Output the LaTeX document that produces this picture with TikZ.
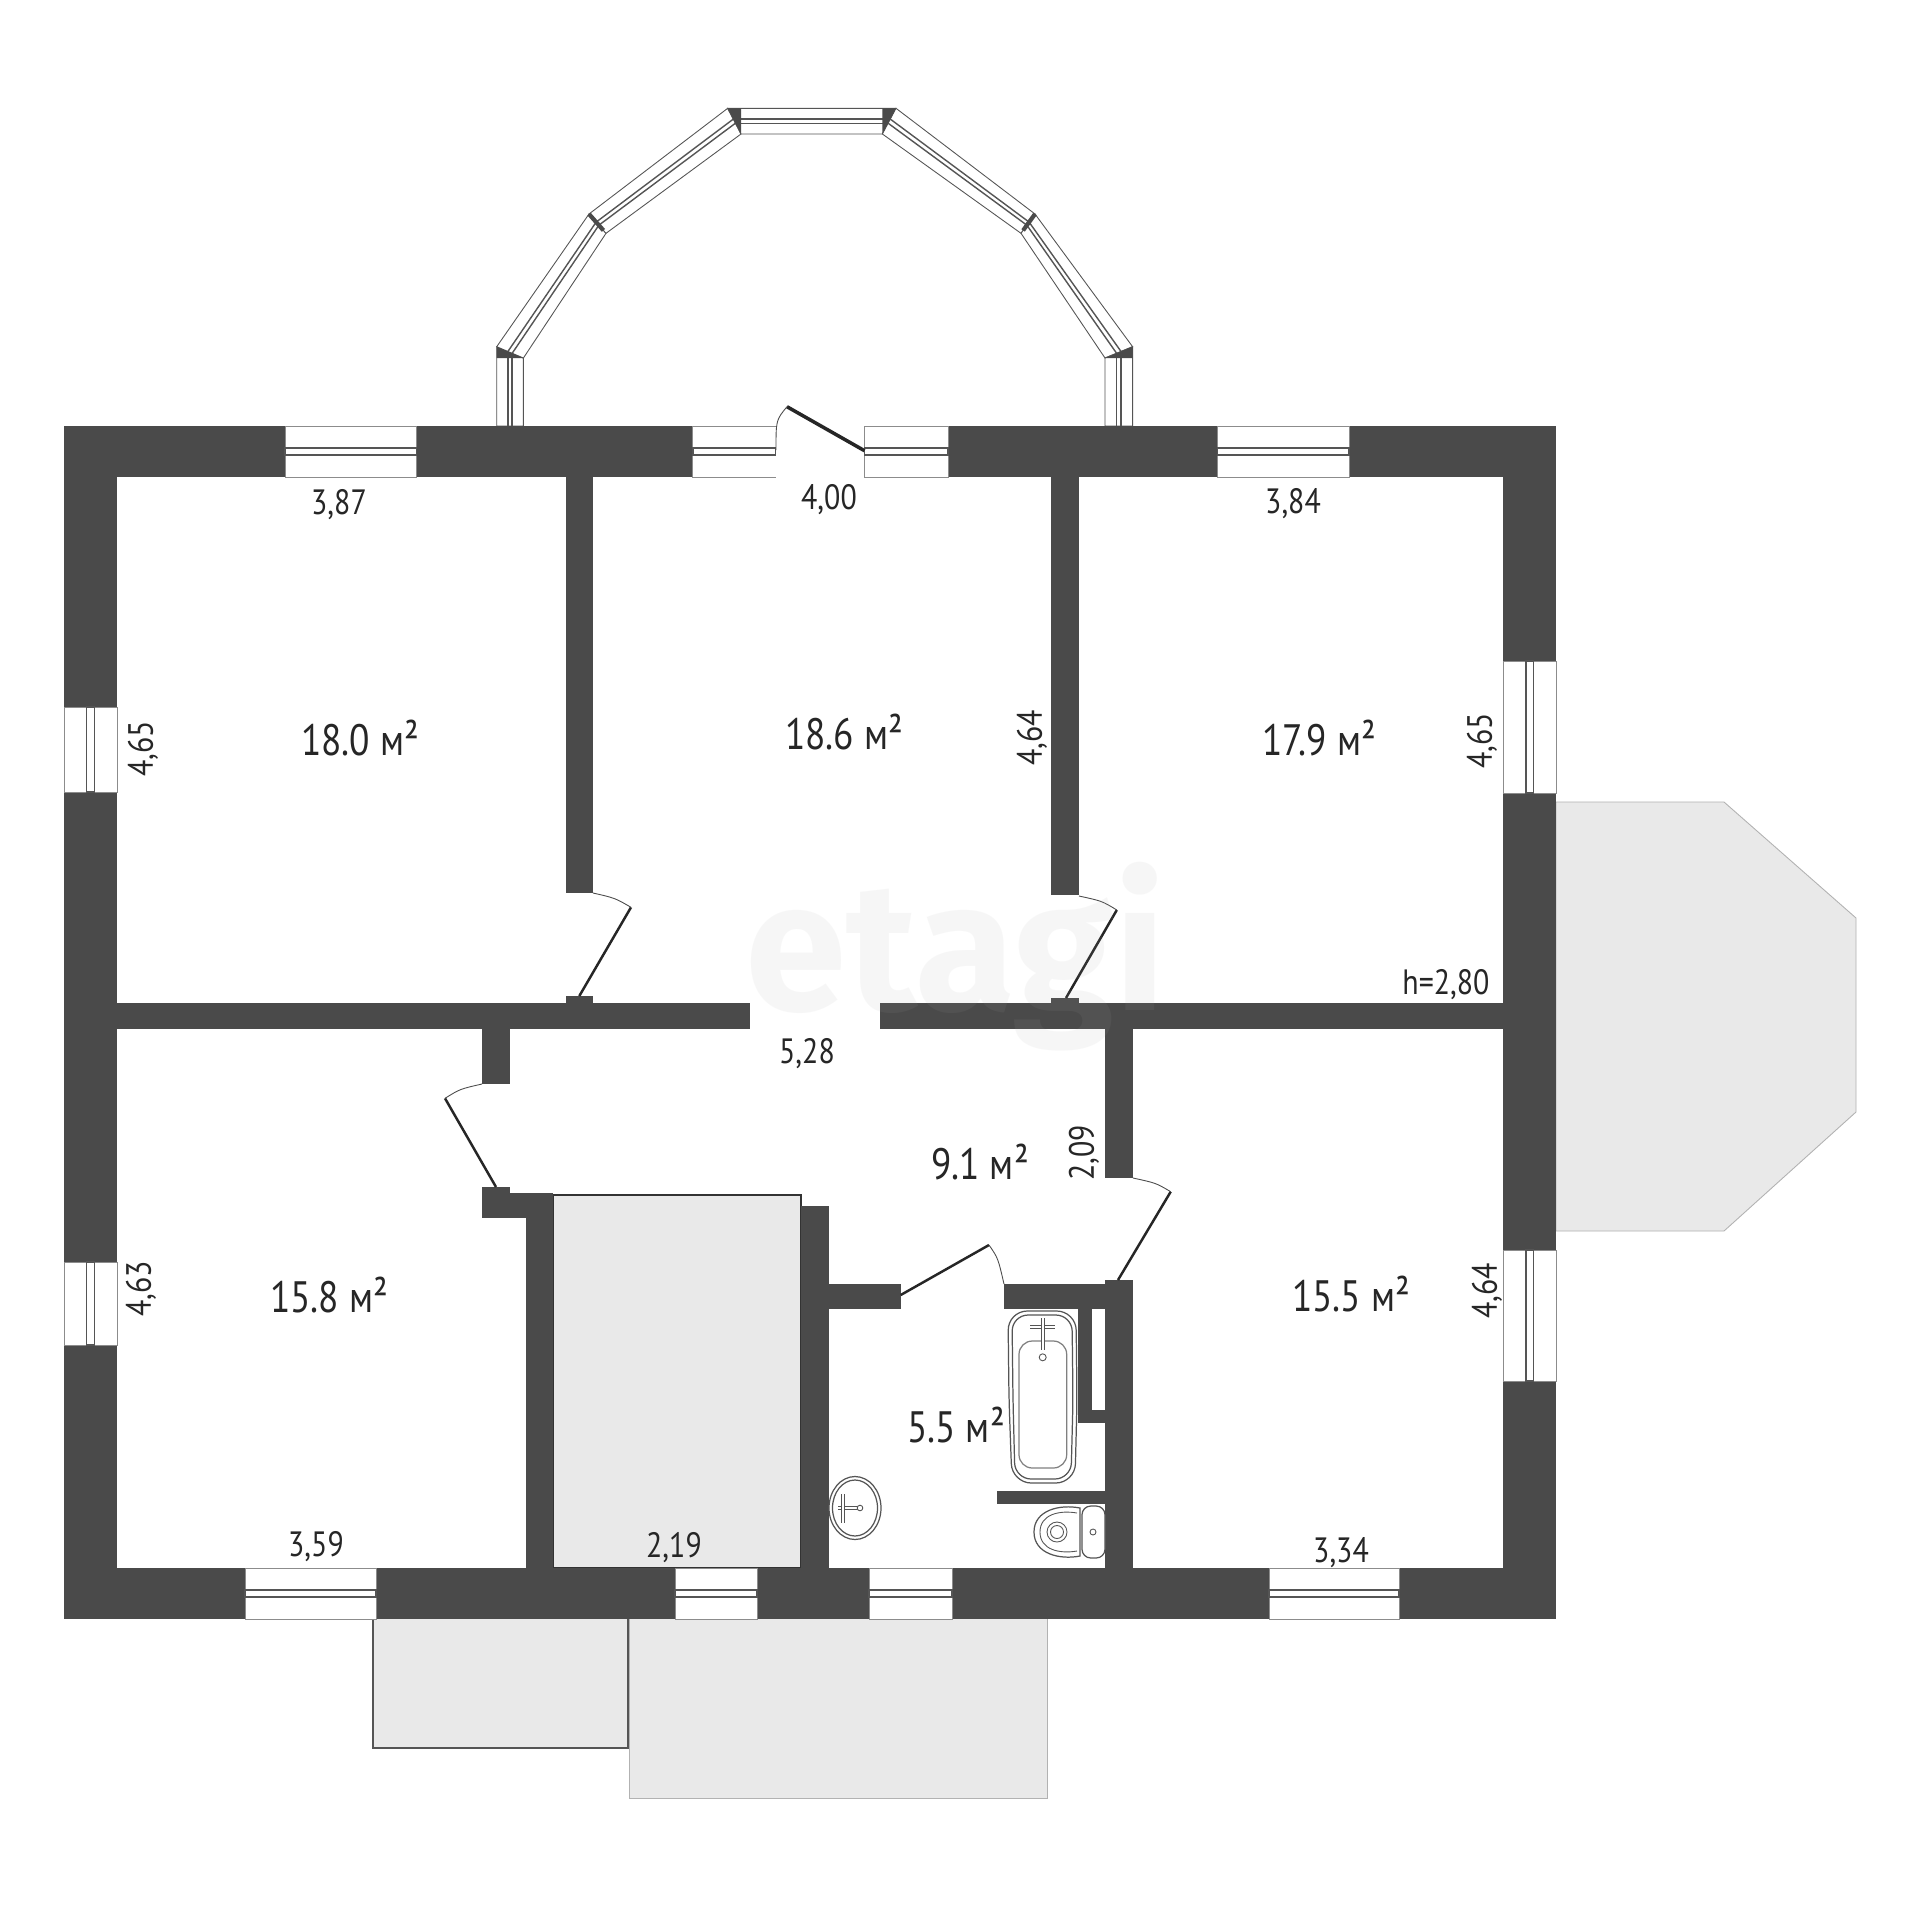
\documentclass[tikz,border=0pt]{standalone}
\usepackage{fontspec}
\usetikzlibrary{calc}
\newfontfamily\lblfont{PT Sans}[FakeStretch=0.85]
\newfontfamily\wmfont{Fira Sans}[Scale=1]
\definecolor{wallc}{HTML}{4A4A4A}
\definecolor{padc}{HTML}{E9E9E9}
\definecolor{linec}{HTML}{555555}
\tikzset{
  wall/.style={fill=wallc,draw=none},
  pad/.style={fill=padc,draw=linec,line width=0.35pt},
  padlight/.style={fill=padc,draw=gray!60,line width=0.25pt},
  winfr/.style={fill=white,draw=gray!90,line width=0.25pt},
  winmid/.style={draw=linec,line width=0.4pt},
  leaf/.style={draw=black!85,line width=0.7pt},
  swing/.style={draw=black!70,line width=0.25pt},
  fixt/.style={draw=linec,line width=0.35pt,fill=white},
  tap/.style={draw=linec,double=white,line width=0.25pt,double distance=0.6pt},
  area/.style={font=\lblfont\fontsize{12.5}{14}\selectfont,text=black!85,inner sep=0pt},
  dim/.style={font=\lblfont\fontsize{10}{12}\selectfont,text=black!85,inner sep=0pt},
}
% horizontal window: x1 x2 y1 y2
\newcommand{\hwindow}[4]{
  \draw[winfr] (#1,#3) rectangle (#2,#4);
  \draw[winmid] (#1,{#3+0.43*(#4-#3)}) rectangle (#2,{#3+0.57*(#4-#3)});
}
% vertical window: x1 x2 y1 y2
\newcommand{\vwindow}[4]{
  \draw[winfr] (#1,#3) rectangle (#2,#4);
  \draw[winmid] ({#1+0.43*(#2-#1)},#3) rectangle ({#1+0.57*(#2-#1)},#4);
}
\begin{document}
\begin{tikzpicture}[x=0.01cm,y=-0.01cm]
\useasboundingbox (0,0) rectangle (1920,1920);
\fill[white] (0,0) rectangle (1920,1920);

% outdoor pads
\draw[padlight] (1556,802) -- (1724,802) -- (1856,918) -- (1856,1112) -- (1724,1231) -- (1556,1231) -- cycle;
\draw[padlight] (629,1618) rectangle (1047,1798);
\draw[pad] (373,1618) rectangle (628,1748);

% bay window
\coordinate (O0) at (496.7,426); \coordinate (I0) at (523.4,426);
\coordinate (O1) at (496.7,346.7); \coordinate (I1) at (523.4,358);
\coordinate (O2) at (589,214); \coordinate (I2) at (606,233.3);
\coordinate (O3) at (727.7,108.3); \coordinate (I3) at (741,134);
\coordinate (O4) at (896,108.3); \coordinate (I4) at (882.4,134);
\coordinate (O5) at (1035,214); \coordinate (I5) at (1021,233.3);
\coordinate (O6) at (1132.6,346.7); \coordinate (I6) at (1105,358);
\coordinate (O7) at (1132.6,426); \coordinate (I7) at (1105,426);
\foreach \i/\j in {0/1,1/2,2/3,3/4,4/5,5/6,6/7}{
  \draw[winfr,draw=linec] (O\i) -- (O\j) -- (I\j) -- (I\i) -- cycle;
  \draw[winmid] ($(O\i)!0.42!(I\i)$) -- ($(O\j)!0.42!(I\j)$);
  \draw[winmid] ($(O\i)!0.58!(I\i)$) -- ($(O\j)!0.58!(I\j)$);
}
\fill[wallc] (O1) -- (I1) -- (496.7,358) -- cycle;
\fill[wallc] (O6) -- (I6) -- (1132.6,358) -- cycle;
\fill[wallc] (O3) -- (741,108.3) -- (I3) -- cycle;
\fill[wallc] (O4) -- (882.4,108.3) -- (I4) -- cycle;
\draw[wallc,line width=1.2pt] (O2) -- ($(O2)!0.85!(I2)$);
\draw[wallc,line width=1.2pt] (O5) -- ($(O5)!0.85!(I5)$);

% gray closet
\draw[fill=padc,draw=black!80,line width=0.4pt] (553,1195) rectangle (801,1568);

% outer walls
\fill[wall] (63.5,426) rectangle (1556,477);
\fill[wall] (63.5,1568) rectangle (1556,1619);
\fill[wall] (63.5,426) rectangle (117,1619);
\fill[wall] (1503,426) rectangle (1556,1619);
% middle wall
\fill[wall] (117,1003) rectangle (750,1029);
\fill[wall] (880,1003) rectangle (1503,1029);
% upper partitions
\fill[wall] (566,477) rectangle (593,893);
\fill[wall] (566,996) rectangle (593,1003);
\fill[wall] (1051,477) rectangle (1079,895);
\fill[wall] (1051,998) rectangle (1079,1003);
% lower left partitions
\fill[wall] (482,1029) rectangle (510,1084);
\fill[wall] (482,1187) rectangle (510,1218);
\fill[wall] (510,1193) rectangle (553,1218);
\fill[wall] (526,1193) rectangle (553,1568);
\fill[wall] (801,1206) rectangle (829,1568);
% bathroom and corridor
\fill[wall] (829,1284) rectangle (901,1309);
\fill[wall] (1004,1284) rectangle (1105,1309);
\fill[wall] (1105,1280) rectangle (1133,1568);
\fill[wall] (1105,1029) rectangle (1133,1178);
\fill[wall] (1078,1309) rectangle (1092,1423);
\fill[wall] (1092,1410) rectangle (1105,1423);
\fill[wall] (997,1491) rectangle (1105,1504);

% windows
\hwindow{285}{416.5}{426}{477}
\hwindow{692.8}{776}{426}{477}
\hwindow{864.5}{948}{426}{477}
\hwindow{1217.6}{1349}{426}{477}
\hwindow{245}{376}{1568}{1619}
\hwindow{675}{757}{1568}{1619}
\hwindow{869}{952}{1568}{1619}
\hwindow{1269}{1399}{1568}{1619}
\vwindow{64}{117}{707}{792}
\vwindow{64}{117}{1262}{1345}
\vwindow{1503}{1556}{661}{793}
\vwindow{1503}{1556}{1250}{1381}
% entrance opening
\fill[white] (776.3,426) rectangle (864.2,478);

% doors
\draw[leaf,line width=1pt] (864.5,450.7) -- (787,406.7);
\draw[swing] (787,406.7) .. controls (776,420) .. (776,450);
\draw[leaf] (579.3,996) -- (631,907.3);
\draw[swing] (631,907.3) .. controls (615,898) .. (593,893);
\draw[leaf] (1066,998) -- (1116.8,910);
\draw[swing] (1116.8,910) .. controls (1102,901) .. (1079,896);
\draw[leaf] (496,1187) -- (445,1098.3);
\draw[swing] (445,1098.3) .. controls (460,1089) .. (482,1084);
\draw[leaf] (1118,1280) -- (1170.7,1191.7);
\draw[swing] (1170.7,1191.7) .. controls (1156,1183) .. (1133,1178);
\draw[leaf] (900.7,1295) -- (989,1245);
\draw[swing] (989,1245) .. controls (998,1258) .. (1004,1284);

% bathtub
\draw[fixt,rounded corners=5.5pt] (1008,1311) -- (1076,1311) -- (1077,1400) -- (1075,1483) -- (1012,1483) -- (1009,1400) -- cycle;
\draw[fixt,rounded corners=4.6pt] (1012,1315) -- (1072,1315) -- (1073,1400) -- (1071,1479) -- (1015,1479) -- (1013,1400) -- cycle;
\draw[fixt,draw=gray,rounded corners=3.8pt] (1019,1341) rectangle (1066.7,1468);
\draw[tap] (1030,1327) -- (1055,1327);
\draw[tap] (1042.7,1318) -- (1042.7,1350);
\draw[fixt,line width=0.25pt] (1042.7,1357.3) circle [radius=3.5];

% sink
\draw[fixt] (855,1508) ellipse [x radius=26,y radius=31.5];
\draw[fixt] (855,1508) ellipse [x radius=22.5,y radius=28];
\draw[tap] (838,1508) -- (858,1508);
\draw[tap] (843,1494) -- (843,1523);
\draw[fixt,line width=0.25pt] (860,1508) circle [radius=2.8];

% toilet
\draw[fixt,rounded corners=2.5pt] (1082,1506) rectangle (1105,1558);
\draw[fixt] (1080,1508) .. controls (1060,1504) and (1034,1510) .. (1034,1532) .. controls (1034,1554) and (1060,1560) .. (1080,1556) -- cycle;
\draw[fixt,line width=0.25pt] (1077,1513) .. controls (1060,1510) and (1040,1514) .. (1040,1532) .. controls (1040,1550) and (1060,1554) .. (1077,1551);
\draw[fixt,line width=0.25pt] (1057,1532) circle [radius=10];
\draw[fixt,line width=0.25pt] (1057,1532) circle [radius=6.5];
\draw[fixt,line width=0.25pt] (1093,1532) circle [radius=3];

% watermark
\node[inner sep=0pt,text=gray!70,opacity=0.09,font=\wmfont\bfseries\fontsize{52}{58}\selectfont] (wm) at (956,957) {etagi};

% labels
\node[dim] (d387) at (339,505) {3,87};
\node[dim] (d400) at (829,500) {4,00};
\node[dim] (d384) at (1293,504) {3,84};
\node[dim,rotate=90] (d465a) at (143,749) {4,65};
\node[dim,rotate=90] (d464a) at (1032,738) {4,64};
\node[dim,rotate=90] (d465b) at (1482,741) {4,65};
\node[dim] (dh) at (1446,985) {h=2,80};
\node[dim] (d528) at (807,1054) {5,28};
\node[dim,rotate=90] (d209) at (1084,1153) {2,09};
\node[dim,rotate=90] (d463) at (141,1289) {4,63};
\node[dim,rotate=90] (d464b) at (1487,1291) {4,64};
\node[dim] (d359) at (316,1547) {3,59};
\node[dim] (d219) at (674,1548) {2,19};
\node[dim] (d334) at (1341,1553) {3,34};
\node[area] (a180) at (360,738) {18.0 м²};
\node[area] (a186) at (844,732) {18.6 м²};
\node[area] (a179) at (1319,738) {17.9 м²};
\node[area] (a91) at (980,1162) {9.1 м²};
\node[area] (a158) at (329,1295) {15.8 м²};
\node[area] (a155) at (1351,1294) {15.5 м²};
\node[area] (a55) at (956,1425) {5.5 м²};
\end{tikzpicture}
\end{document}
